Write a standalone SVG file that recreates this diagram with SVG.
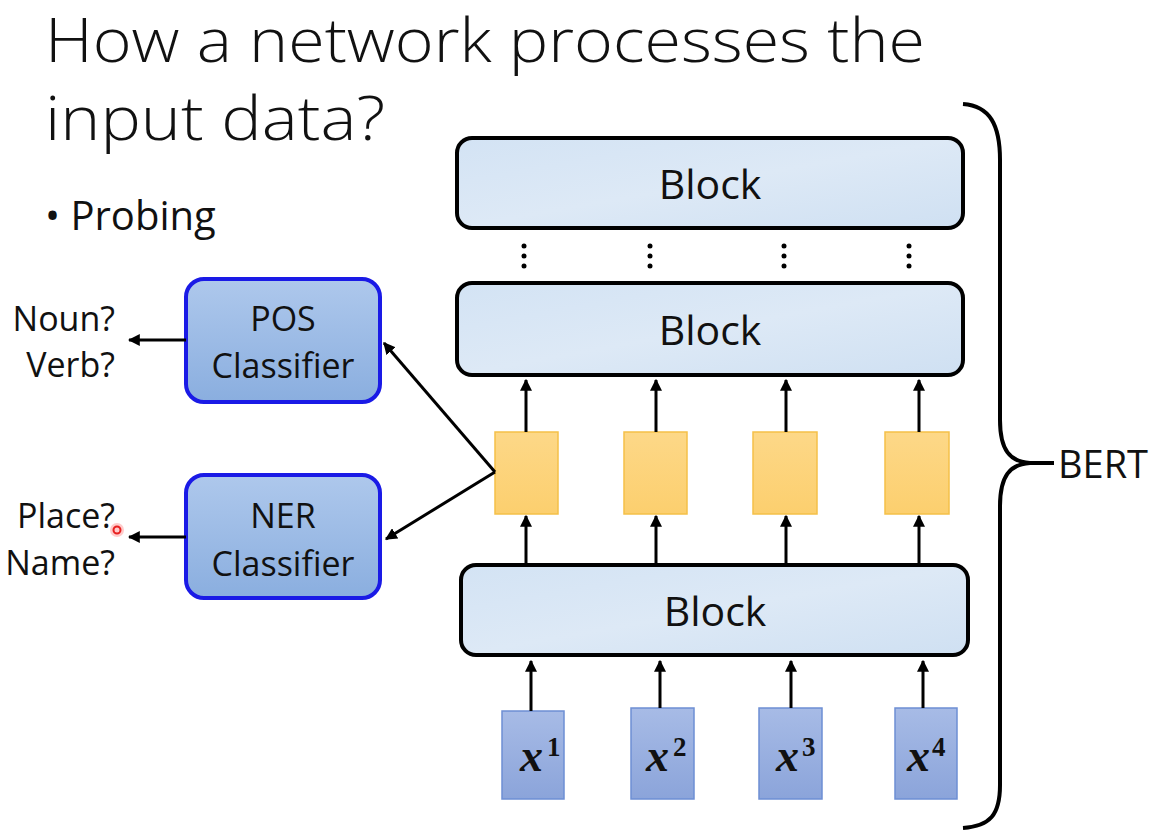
<svg xmlns="http://www.w3.org/2000/svg" width="1155" height="831" viewBox="0 0 1155 831">
<defs>
<marker id="ah" viewBox="0 0 10 10" refX="9" refY="5" markerWidth="4" markerHeight="4" orient="auto-start-reverse" markerUnits="strokeWidth">
<path d="M0,0 L10,5 L0,10 Z" fill="#000"/>
</marker>
<linearGradient id="blk" x1="0" y1="0" x2="1" y2="1">
<stop offset="0" stop-color="#d3e3f4"/>
<stop offset="0.5" stop-color="#dde9f6"/>
<stop offset="1" stop-color="#cfe0f2"/>
</linearGradient>
<linearGradient id="cls" x1="0" y1="0" x2="0" y2="1">
<stop offset="0" stop-color="#aec8ec"/>
<stop offset="1" stop-color="#8aaedf"/>
</linearGradient>
<linearGradient id="yel" x1="0" y1="0" x2="0" y2="1">
<stop offset="0" stop-color="#fdd888"/>
<stop offset="1" stop-color="#fccf6e"/>
</linearGradient>
<linearGradient id="inp" x1="0" y1="0" x2="0" y2="1">
<stop offset="0" stop-color="#a7bbe6"/>
<stop offset="1" stop-color="#8ba4da"/>
</linearGradient>
</defs>
<style>
.t{font-family:"Open Sans","Liberation Sans",sans-serif;fill:#111}
.blk{fill:url(#blk);stroke:#000;stroke-width:4}
.cls{fill:url(#cls);stroke:#1a1ae6;stroke-width:4}
.yel{fill:url(#yel);stroke:#f5c048;stroke-width:1.5}
.inp{fill:url(#inp);stroke:#6d8fd4;stroke-width:1.5}
.c{stroke:#000;stroke-width:3;fill:none}
.x{font-family:"Liberation Serif",serif;font-weight:bold;font-style:italic;fill:#111;font-size:46px}
.s{font-family:"Liberation Serif",serif;font-weight:bold;fill:#111;font-size:27px}
.d{fill:#000}
</style>
<rect width="1155" height="831" fill="#fff"/>
<g id="title">
<text class="t" x="45" y="62" font-size="60" font-weight="300" textLength="880" lengthAdjust="spacingAndGlyphs">How a network processes the</text>
<text class="t" x="45" y="140" font-size="60" font-weight="300" textLength="340" lengthAdjust="spacingAndGlyphs">input data?</text>
<text class="t" x="45" y="230" font-size="40">• Probing</text>
</g>
<g id="block-top">
<rect class="blk" x="457" y="138" width="506" height="90" rx="15"/>
<text class="t" x="710" y="199" font-size="41" text-anchor="middle">Block</text>
</g>
<g id="dots">
<circle class="d" cx="524" cy="246" r="2.5"/><circle class="d" cx="524" cy="256" r="2.5"/><circle class="d" cx="524" cy="266" r="2.5"/>
<circle class="d" cx="650" cy="246" r="2.5"/><circle class="d" cx="650" cy="256" r="2.5"/><circle class="d" cx="650" cy="266" r="2.5"/>
<circle class="d" cx="784" cy="246" r="2.5"/><circle class="d" cx="784" cy="256" r="2.5"/><circle class="d" cx="784" cy="266" r="2.5"/>
<circle class="d" cx="909" cy="246" r="2.5"/><circle class="d" cx="909" cy="256" r="2.5"/><circle class="d" cx="909" cy="266" r="2.5"/>
</g>
<g id="block-mid">
<rect class="blk" x="457" y="283" width="506" height="92" rx="15"/>
<text class="t" x="710" y="345" font-size="41" text-anchor="middle">Block</text>
</g>
<g id="block-bottom">
<rect class="blk" x="461" y="565" width="507" height="90" rx="15"/>
<text class="t" x="715" y="626" font-size="41" text-anchor="middle">Block</text>
</g>
<g id="emb1"><rect class="yel" x="495" y="432" width="63" height="82"/></g>
<g id="emb2"><rect class="yel" x="624" y="432" width="63" height="82"/></g>
<g id="emb3"><rect class="yel" x="753" y="432" width="64" height="82"/></g>
<g id="emb4"><rect class="yel" x="885" y="432" width="64" height="82"/></g>
<g id="in1"><rect class="inp" x="502" y="711" width="62" height="88"/><text class="x" x="520" y="771">x</text><text class="s" x="547" y="756">1</text></g>
<g id="in2"><rect class="inp" x="631" y="708" width="63" height="91"/><text class="x" x="646" y="771">x</text><text class="s" x="673" y="756">2</text></g>
<g id="in3"><rect class="inp" x="759" y="708" width="63" height="91"/><text class="x" x="776" y="771">x</text><text class="s" x="802" y="756">3</text></g>
<g id="in4"><rect class="inp" x="895" y="708" width="62" height="91"/><text class="x" x="907" y="771">x</text><text class="s" x="932" y="756">4</text></g>
<g id="pos">
<rect class="cls" x="186" y="279" width="194" height="123" rx="18"/>
<text class="t" x="283" y="331" font-size="34" text-anchor="middle">POS</text>
<text class="t" x="283" y="378" font-size="34" text-anchor="middle">Classifier</text>
</g>
<g id="ner">
<rect class="cls" x="186" y="475" width="194" height="123" rx="18"/>
<text class="t" x="283" y="528" font-size="34" text-anchor="middle">NER</text>
<text class="t" x="283" y="576" font-size="34" text-anchor="middle">Classifier</text>
</g>
<g id="labels">
<text class="t" x="115" y="331" font-size="34" text-anchor="end">Noun?</text>
<text class="t" x="115" y="377" font-size="34" text-anchor="end">Verb?</text>
<text class="t" x="115" y="528" font-size="34" text-anchor="end">Place?</text>
<text class="t" x="115" y="575" font-size="34" text-anchor="end">Name?</text>
<circle cx="117" cy="530" r="7" fill="#ff6a6a" opacity="0.35"/>
<circle cx="117" cy="530" r="3.5" fill="none" stroke="#e82020" stroke-width="2"/>
</g>
<g id="bert">
<path d="M963,104 C990,106 1000,125 1000,160 L1000,420 C1000,450 1010,462 1030,463 C1010,464 1000,476 1000,506 L1000,785 C1000,815 990,826 963,828" fill="none" stroke="#000" stroke-width="4"/>
<line x1="1030" y1="463" x2="1054" y2="463" stroke="#000" stroke-width="4"/>
<text class="t" x="1058" y="478" font-size="38">BERT</text>
</g>
<g id="connectors">
<line class="c" x1="186" y1="340" x2="129" y2="340" marker-end="url(#ah)"/>
<line class="c" x1="186" y1="537" x2="129" y2="537" marker-end="url(#ah)"/>
<polyline class="c" points="384,343 495,472" marker-start="url(#ah)"/>
<polyline class="c" points="495,472 386,539" marker-end="url(#ah)"/>
<line class="c" x1="526" y1="432" x2="526" y2="380" marker-end="url(#ah)"/>
<line class="c" x1="656" y1="432" x2="656" y2="380" marker-end="url(#ah)"/>
<line class="c" x1="786" y1="432" x2="786" y2="380" marker-end="url(#ah)"/>
<line class="c" x1="919" y1="432" x2="919" y2="380" marker-end="url(#ah)"/>
<line class="c" x1="526" y1="565" x2="526" y2="516" marker-end="url(#ah)"/>
<line class="c" x1="656" y1="565" x2="656" y2="516" marker-end="url(#ah)"/>
<line class="c" x1="786" y1="565" x2="786" y2="516" marker-end="url(#ah)"/>
<line class="c" x1="919" y1="565" x2="919" y2="516" marker-end="url(#ah)"/>
<line class="c" x1="531" y1="711" x2="531" y2="661" marker-end="url(#ah)"/>
<line class="c" x1="660" y1="708" x2="660" y2="661" marker-end="url(#ah)"/>
<line class="c" x1="791" y1="708" x2="791" y2="661" marker-end="url(#ah)"/>
<line class="c" x1="923" y1="708" x2="923" y2="661" marker-end="url(#ah)"/>
</g>
</svg>
